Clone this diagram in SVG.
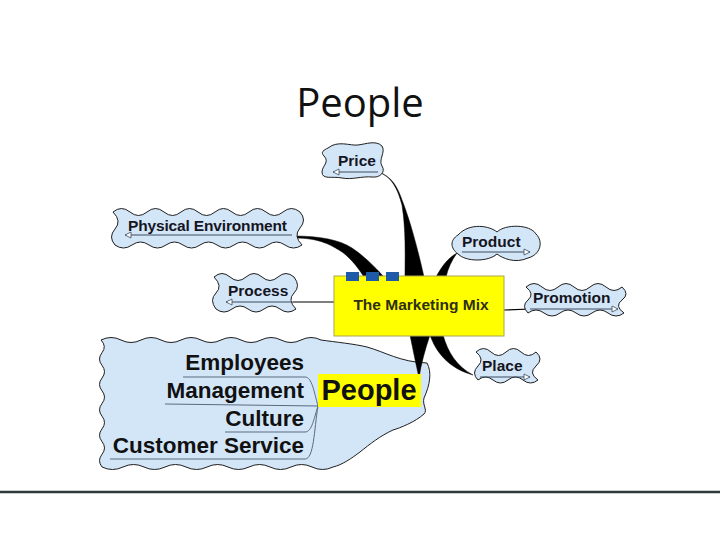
<svg xmlns="http://www.w3.org/2000/svg" width="720" height="540" viewBox="0 0 720 540">
<style>
.bub{fill:#d3e6f8;stroke:#1e1e1e;stroke-width:1}
.lbl{font-family:"Liberation Sans",Arial,sans-serif;font-weight:bold;font-size:15.5px;fill:#15151f}
.ul{stroke:#3a4a5e;stroke-width:1;fill:none}
.tri{fill:#ffffff;stroke:#3a4a5e;stroke-width:0.8}
.wedge{fill:#000000;stroke:#000;stroke-width:0.5}
.sub{font-family:"Liberation Sans",Arial,sans-serif;font-weight:bold;font-size:22.5px;fill:#111;text-anchor:end}
.sl{stroke:#5a6a80;stroke-width:1;fill:none}
</style>
<rect width="720" height="540" fill="#ffffff"/>
<text x="360" y="117" text-anchor="middle" font-family="'Open Sans','DejaVu Sans',sans-serif" font-size="40" fill="#111">People</text>

<g id="connectors">
  <path class="wedge" d="M378,172 C392,176 398,190 402,205 C406,230 405,255 405,277 L424,277 C418,250 410,220 402,200 C398,188 392,176 378,172 Z"/>
  <path class="wedge" d="M294,236 C320,236 340,240 352,248 C364,256 374,266 384,277 L364,277 C357,266 349,256 339,250 C329,244 318,238 294,238 Z"/>
  <path class="wedge" d="M457,253 C448,258 442,266 436,277 L446,277 C448,268 452,260 457,253 Z"/>
  <path d="M293,302 L334,302" stroke="#000" stroke-width="1.2" fill="none"/>
  <path d="M504,310 L531,309" stroke="#000" stroke-width="1.2" fill="none"/>
  <path class="wedge" d="M430,335 C436,352 448,368 473,375 C456,366 448,352 443,335 Z"/>
</g>

<g id="people-group">
  <path class="bub" d="M101,340 q10,-5 20,0 t20,0 t20,0 t20,0 t20,0 t20,0 t20,0 t20,0 t20,0 t20,0 t20,0 C335,342 355,344 367,347 C385,352 400,362 427,363 C432,372 430,385 424,398 C422,405 428,410 424,414 C415,422 400,428 393,430 C380,436 370,444 360,452 C352,458 342,465 333,467 q-10.5,5 -21,0 t-21,0 t-21,0 t-21,0 t-21,0 t-21,0 t-21,0 t-21,0 t-21,0 t-21,0 t-21,0 q-5,-6.35 0,-12.7 t0,-12.7 t0,-12.7 t0,-12.7 t0,-12.7 t0,-12.7 t0,-12.7 t0,-12.7 t0,-12.7 t-1,-12.7 Z"/>
  <path class="wedge" d="M410,335 C413,350 416,364 419,378 C421,364 425,350 430,335 Z"/>
  <path class="sl" d="M183,377 L305,377 C312,377 314,392 318,406"/>
  <path class="sl" d="M165,404 L318,406"/>
  <path class="sl" d="M225,432 L305,432 C312,432 314,418 318,406"/>
  <path class="sl" d="M110,459 L305,459 C314,459 314,430 318,406"/>
  <text class="sub" x="304" y="370">Employees</text>
  <text class="sub" x="304" y="398">Management</text>
  <text class="sub" x="304" y="426">Culture</text>
  <text class="sub" x="304" y="453">Customer Service</text>
  <rect x="318" y="374" width="103" height="33" fill="#ffff00"/>
  <text x="369" y="400" text-anchor="middle" font-family="'Liberation Sans',Arial,sans-serif" font-weight="bold" font-size="29" fill="#111">People</text>
</g>

<g id="price">
  <path class="bub" d="M328,148 C338,140 350,146 358,145 C366,144 376,140 382,146 C386,152 378,160 382,166 C386,172 380,178 372,177 C362,176 352,180 342,178 C332,176 322,180 322,172 C322,166 330,162 324,156 C320,152 324,150 328,148 Z"/>
  <line class="ul" x1="333" y1="172" x2="378" y2="172"/>
  <path class="tri" d="M333,172 l6,-3 v6 z"/>
  <text class="lbl" x="338" y="166">Price</text>
</g>

<g id="physical">
  <path class="bub" d="M113,212 q8.5,-7 17,0 t17,0 t17,0 t17,0 t17,0 t17,0 t17,0 t17,0 t17,0 t17,0 t17,0 q7,8 0,16 t2,17 q-8.5,6 -17,0 t-17,0 t-17,0 t-17,0 t-17,0 t-17,0 t-17,0 t-17,0 t-17,0 t-17,0 t-17,0 q-7,-8 0,-16 t-2,-17 Z"/>
  <line class="ul" x1="125" y1="235" x2="292" y2="235"/>
  <path class="tri" d="M125,235 l6,-3 v6 z"/>
  <text class="lbl" x="128" y="231" textLength="159">Physical Environment</text>
</g>

<g id="process">
  <path class="bub" d="M214,277 q8,-7 16,0 t16,0 t16,0 t16,0 t16,0 q7,9 0,16 t2,16 q-8,6 -16,0 t-16,0 t-16,0 t-16,0 t-16,0 q-7,-9 0,-16 t-2,-16 Z"/>
  <line class="ul" x1="226" y1="302" x2="293" y2="302"/>
  <path class="tri" d="M226,302 l6,-3 v6 z"/>
  <text class="lbl" x="228" y="296">Process</text>
</g>

<g id="product">
  <path class="bub" d="M458,235 C470,222 490,226 497,232 C505,224 530,224 536,234 C544,242 540,255 528,258 C515,264 502,258 497,254 C488,262 466,262 458,254 C450,248 450,240 458,235 Z"/>
  <line class="ul" x1="462" y1="252" x2="530" y2="252"/>
  <path class="tri" d="M530,252 l-6,-3 v6 z"/>
  <text class="lbl" x="462" y="247">Product</text>
</g>

<g id="promotion">
  <path class="bub" d="M526,287 q8,-7 16,0 t16,0 t16,0 t16,0 t16,0 t16,0 q8,7 0,13 t2,13 q-8,6 -16,0 t-16,0 t-16,0 t-16,0 t-16,0 t-16,0 q-7,-7 0,-13 t-2,-13 Z"/>
  <line class="ul" x1="530" y1="309" x2="618" y2="309"/>
  <path class="tri" d="M618,309 l-6,-3 v6 z"/>
  <text class="lbl" x="533" y="303">Promotion</text>
</g>

<g id="place">
  <path class="bub" d="M476,352 q7.5,-7 15,0 t15,0 t15,0 t15,0 q8,7 0,14 t2,14 q-7.5,6 -15,0 t-15,0 t-15,0 t-15,0 q-7,-7 0,-14 t-2,-14 Z"/>
  <line class="ul" x1="480" y1="377" x2="530" y2="377"/>
  <path class="tri" d="M530,377 l-6,-3 v6 z"/>
  <text class="lbl" x="482" y="371">Place</text>
</g>

<g id="marketing-mix">
  <rect x="334" y="276" width="170" height="60" fill="#ffff00" stroke="#a8a850" stroke-width="1"/>
  <rect x="346" y="272" width="13" height="9" fill="#1f5aa8"/>
  <rect x="366" y="272" width="13" height="9" fill="#1f5aa8"/>
  <rect x="386" y="272" width="13" height="9" fill="#1f5aa8"/>
  <text x="421" y="310" text-anchor="middle" font-family="'Liberation Sans',Arial,sans-serif" font-weight="bold" font-size="15.5" fill="#2e2e10">The Marketing Mix</text>
</g>

<line x1="0" y1="492" x2="720" y2="492" stroke="#2e3a3c" stroke-width="2.5"/>
</svg>
